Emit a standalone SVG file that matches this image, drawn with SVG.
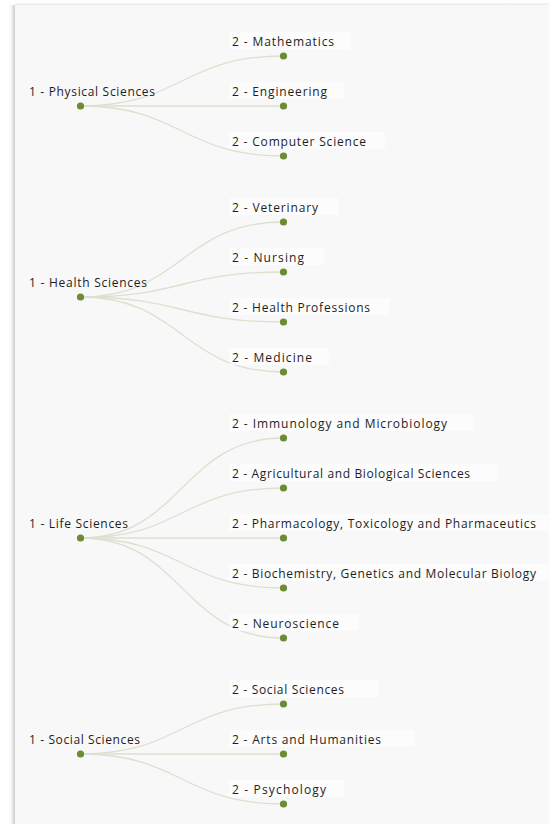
<svg xmlns="http://www.w3.org/2000/svg" width="549" height="824" viewBox="0 0 549 824">
<style>
.panel{fill:#f8f8f8}
.link{fill:none;stroke:#dce1cf;stroke-width:1.3}
.dot{fill:#6b8c32}
.bg{fill:#ffffff;opacity:0.55}
.lbl{font-family:"Open Sans","Noto Sans",sans-serif;font-size:12px;fill:#1e1e1e}
</style>
<defs>
<linearGradient id="shL" x1="0" y1="0" x2="1" y2="0">
<stop offset="0" stop-color="#ffffff" stop-opacity="0"/>
<stop offset="1" stop-color="#c8c8c8"/>
</linearGradient>
<linearGradient id="shT" x1="0" y1="0" x2="0" y2="1">
<stop offset="0" stop-color="#ffffff" stop-opacity="0"/>
<stop offset="1" stop-color="#e6e6e6"/>
</linearGradient>
</defs>
<rect x="0" y="0" width="549" height="824" fill="#ffffff"/>
<rect x="8" y="5" width="7" height="819" fill="url(#shL)"/>
<rect x="15" y="1" width="534" height="4" fill="url(#shT)"/>
<rect class="panel" x="15" y="5" width="534" height="819"/>

<g id="connectors">
<path class="link" d="M80.5,106 C182,106 182,56 283.5,56"/>
<path class="link" d="M80.5,106 C182,106 182,106 283.5,106"/>
<path class="link" d="M80.5,106 C182,106 182,156 283.5,156"/>
<path class="link" d="M80.5,297 C182,297 182,222 283.5,222"/>
<path class="link" d="M80.5,297 C182,297 182,272 283.5,272"/>
<path class="link" d="M80.5,297 C182,297 182,322 283.5,322"/>
<path class="link" d="M80.5,297 C182,297 182,372 283.5,372"/>
<path class="link" d="M80.5,538 C182,538 182,438 283.5,438"/>
<path class="link" d="M80.5,538 C182,538 182,488 283.5,488"/>
<path class="link" d="M80.5,538 C182,538 182,538 283.5,538"/>
<path class="link" d="M80.5,538 C182,538 182,588 283.5,588"/>
<path class="link" d="M80.5,538 C182,538 182,638 283.5,638"/>
<path class="link" d="M80.5,754 C182,754 182,704 283.5,704"/>
<path class="link" d="M80.5,754 C182,754 182,754 283.5,754"/>
<path class="link" d="M80.5,754 C182,754 182,804 283.5,804"/>
</g>

<g id="physical-sciences">
<text class="lbl" x="29" y="96" textLength="126" lengthAdjust="spacing">1 - Physical Sciences</text>
<circle class="dot" cx="80.5" cy="106" r="3.6"/>
</g>
<g id="mathematics">
<rect class="bg" x="229" y="32" width="122" height="17"/>
<text class="lbl" x="232" y="46" textLength="102" lengthAdjust="spacing">2 - Mathematics</text>
<circle class="dot" cx="283.5" cy="56" r="3.6"/>
</g>
<g id="engineering">
<rect class="bg" x="229" y="82" width="115" height="17"/>
<text class="lbl" x="232" y="96" textLength="95" lengthAdjust="spacing">2 - Engineering</text>
<circle class="dot" cx="283.5" cy="106" r="3.6"/>
</g>
<g id="computer-science">
<rect class="bg" x="229" y="132" width="156" height="17"/>
<text class="lbl" x="232" y="146" textLength="134" lengthAdjust="spacing">2 - Computer Science</text>
<circle class="dot" cx="283.5" cy="156" r="3.6"/>
</g>

<g id="health-sciences">
<text class="lbl" x="29" y="287" textLength="118" lengthAdjust="spacing">1 - Health Sciences</text>
<circle class="dot" cx="80.5" cy="297" r="3.6"/>
</g>
<g id="veterinary">
<rect class="bg" x="229" y="198" width="110" height="17"/>
<text class="lbl" x="232" y="212" textLength="86" lengthAdjust="spacing">2 - Veterinary</text>
<circle class="dot" cx="283.5" cy="222" r="3.6"/>
</g>
<g id="nursing">
<rect class="bg" x="229" y="248" width="95" height="17"/>
<text class="lbl" x="232" y="262" textLength="72" lengthAdjust="spacing">2 - Nursing</text>
<circle class="dot" cx="283.5" cy="272" r="3.6"/>
</g>
<g id="health-professions">
<rect class="bg" x="229" y="298" width="160" height="17"/>
<text class="lbl" x="232" y="312" textLength="138" lengthAdjust="spacing">2 - Health Professions</text>
<circle class="dot" cx="283.5" cy="322" r="3.6"/>
</g>
<g id="medicine">
<rect class="bg" x="229" y="348" width="100" height="17"/>
<text class="lbl" x="232" y="362" textLength="80" lengthAdjust="spacing">2 - Medicine</text>
<circle class="dot" cx="283.5" cy="372" r="3.6"/>
</g>

<g id="life-sciences">
<text class="lbl" x="29" y="528" textLength="99" lengthAdjust="spacing">1 - Life Sciences</text>
<circle class="dot" cx="80.5" cy="538" r="3.6"/>
</g>
<g id="immunology">
<rect class="bg" x="229" y="414" width="245" height="17"/>
<text class="lbl" x="232" y="428" textLength="215" lengthAdjust="spacing">2 - Immunology and Microbiology</text>
<circle class="dot" cx="283.5" cy="438" r="3.6"/>
</g>
<g id="agricultural">
<rect class="bg" x="229" y="464" width="268" height="17"/>
<text class="lbl" x="232" y="478" textLength="238" lengthAdjust="spacing">2 - Agricultural and Biological Sciences</text>
<circle class="dot" cx="283.5" cy="488" r="3.6"/>
</g>
<g id="pharmacology">
<rect class="bg" x="229" y="514" width="320" height="17"/>
<text class="lbl" x="232" y="528" textLength="304" lengthAdjust="spacing">2 - Pharmacology, Toxicology and Pharmaceutics</text>
<circle class="dot" cx="283.5" cy="538" r="3.6"/>
</g>
<g id="biochemistry">
<rect class="bg" x="229" y="564" width="320" height="17"/>
<text class="lbl" x="232" y="578" textLength="304" lengthAdjust="spacing">2 - Biochemistry, Genetics and Molecular Biology</text>
<circle class="dot" cx="283.5" cy="588" r="3.6"/>
</g>
<g id="neuroscience">
<rect class="bg" x="229" y="614" width="130" height="17"/>
<text class="lbl" x="232" y="628" textLength="107" lengthAdjust="spacing">2 - Neuroscience</text>
<circle class="dot" cx="283.5" cy="638" r="3.6"/>
</g>

<g id="social-sciences-root">
<text class="lbl" x="29" y="744" textLength="111" lengthAdjust="spacing">1 - Social Sciences</text>
<circle class="dot" cx="80.5" cy="754" r="3.6"/>
</g>
<g id="social-sciences">
<rect class="bg" x="229" y="680" width="150" height="17"/>
<text class="lbl" x="232" y="694" textLength="112" lengthAdjust="spacing">2 - Social Sciences</text>
<circle class="dot" cx="283.5" cy="704" r="3.6"/>
</g>
<g id="arts-humanities">
<rect class="bg" x="229" y="730" width="186" height="17"/>
<text class="lbl" x="232" y="744" textLength="149" lengthAdjust="spacing">2 - Arts and Humanities</text>
<circle class="dot" cx="283.5" cy="754" r="3.6"/>
</g>
<g id="psychology">
<rect class="bg" x="229" y="780" width="115" height="17"/>
<text class="lbl" x="232" y="794" textLength="94" lengthAdjust="spacing">2 - Psychology</text>
<circle class="dot" cx="283.5" cy="804" r="3.6"/>
</g>
</svg>
